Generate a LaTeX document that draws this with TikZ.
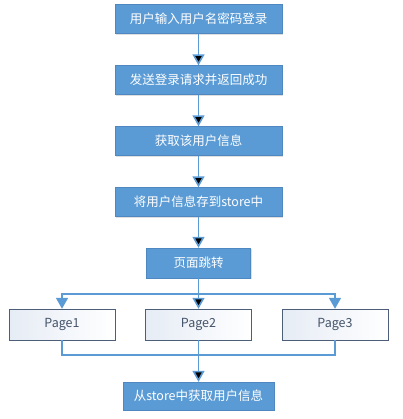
\documentclass[tikz,border=0pt]{standalone}
\usepackage{fontspec}
\setmainfont{Noto Sans CJK SC}
\usepackage{tikz}
\usetikzlibrary{arrows.meta,positioning,shadows}

\definecolor{boxblue}{HTML}{5B9BD5}
\definecolor{boxedge}{HTML}{4F88C0}
\definecolor{pageedge}{HTML}{4D5E78}
\definecolor{pagetext}{HTML}{44546A}
\definecolor{pagetint}{HTML}{E6ECF5}

\tikzset{
  stepbox/.style={rectangle, draw=boxedge, fill=boxblue, text=white,
    minimum width=167pt, minimum height=29pt, inner sep=0pt,
    drop shadow={shadow xshift=1.2pt, shadow yshift=-1.2pt, opacity=0.25}},
  pagebox/.style={rectangle, draw=pageedge, left color=pagetint, right color=white,
    text=pagetext, minimum width=106pt, minimum height=31pt, inner sep=0pt},
  flow/.style={draw=boxblue, line width=1.6pt},
  flowto/.style={flow, -{Triangle[width=12pt,length=11pt]}}
}

\begin{document}
\begin{tikzpicture}[x=1pt, y=1pt, node distance=61pt, font=\fontsize{12.5}{14}\selectfont]
      \useasboundingbox (0,0) rectangle (402,-419);
      \node [stepbox] (login) at (198.5,-19) {用户输入用户名密码登录};
      \node [stepbox] (send) [below of=login] {发送登录请求并返回成功};
      \node [stepbox] (fetch) [below of=send] {获取该用户信息};
      \node [stepbox] (save) [below of=fetch] {将用户信息存到store中};
      \node [stepbox, minimum width=104pt, minimum height=30pt] (jump) [below of=save] {页面跳转};
      \node [pagebox] (page2) [below of=jump, node distance=61.5pt] {Page2};
      \node [pagebox] (page1) [left of=page2, node distance=136.5pt] {Page1};
      \node [pagebox] (page3) [right of=page2, node distance=136.5pt] {Page3};
      \node [stepbox, minimum width=151pt, minimum height=28pt] (read) [below of=page2, node distance=71.5pt] {从store中获取用户信息};
      \coordinate [below=15.5pt of jump.south] (split);
      \coordinate [below=15pt of page2.south] (merge);
      \path [flowto]
      (login) edge (send)
      (send) edge (fetch)
      (fetch) edge (save)
      (save) edge (jump)
      (jump) edge (page2)
      (page2) edge (read)
      ;
      \draw [flowto] (split) -| (page1.north);
      \draw [flowto] (split) -| (page3.north);
      \draw [flow] (page1.south) |- (merge) -| (page3.south);
\end{tikzpicture}
\end{document}
